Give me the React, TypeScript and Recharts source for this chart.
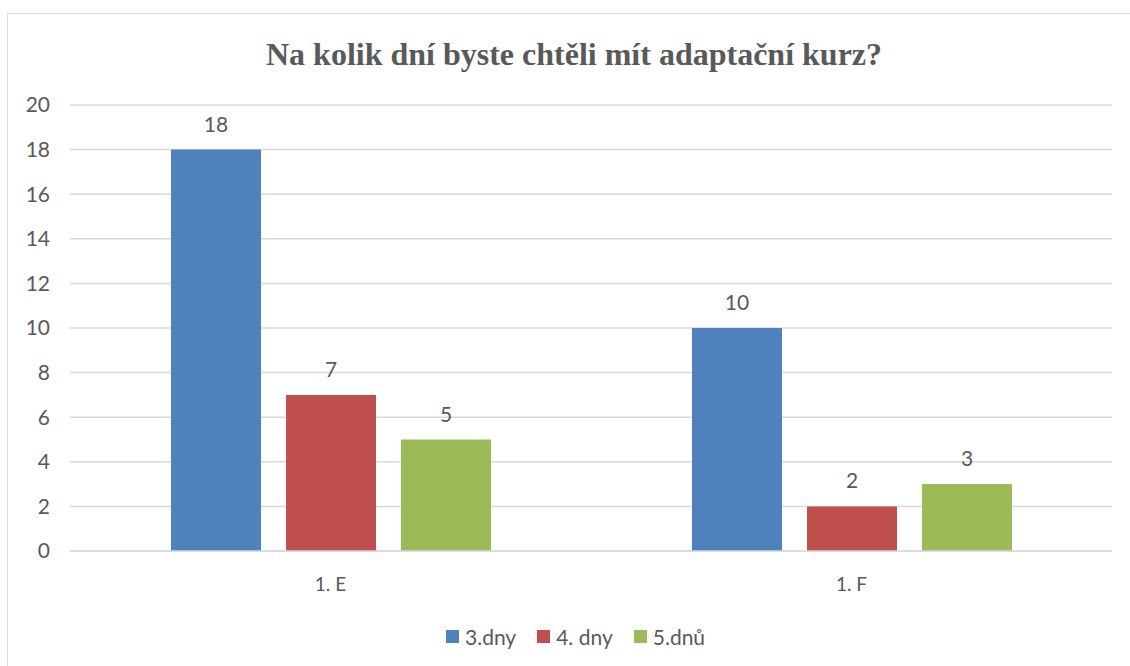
import { BarChart, Bar, XAxis, YAxis, CartesianGrid, LabelList } from 'recharts';

const categories = ['1. E', '1. F'];
const threeDays = [18, 10];
const fourDays = [7, 2];
const fiveDays = [5, 3];
const yTicks = [0, 2, 4, 6, 8, 10, 12, 14, 16, 18, 20];

const series = [
  { key: 'd3', name: '3.dny', color: '#4f81bd', values: threeDays },
  { key: 'd4', name: '4. dny', color: '#c0504d', values: fourDays },
  { key: 'd5', name: '5.dnů', color: '#9bbb59', values: fiveDays },
];

const data = categories.map((c, i) => ({
  name: c,
  d3: threeDays[i],
  d4: fourDays[i],
  d5: fiveDays[i],
}));

const font = 'Lato, "Open Sans", sans-serif';
const textColor = '#595959';

export default function App() {
  return (
    <div
      style={{
        position: 'absolute',
        left: 0,
        top: 0,
        width: 1130,
        height: 666,
        overflow: 'hidden',
        background: '#fff',
        fontFamily: font,
      }}
    >
      <div
        style={{
          position: 'absolute',
          left: 7,
          top: 13,
          width: 1140,
          height: 680,
          border: '1px solid #d9d9d9',
        }}
      />
      <div
        style={{
          position: 'absolute',
          top: 36,
          left: 0,
          width: 1148,
          textAlign: 'center',
          fontFamily: '"Liberation Serif", "Times New Roman", serif',
          fontWeight: 'bold',
          fontSize: 32,
          color: textColor,
        }}
      >
        Na kolik dní byste chtěli mít adaptační kurz?
      </div>
      <div style={{ position: 'absolute', left: 0, top: 0 }}>
        <BarChart
          width={1130}
          height={666}
          data={data}
          margin={{ top: 105, right: 18, left: 0, bottom: 0 }}
          barSize={90}
          barGap={25}
        >
          <CartesianGrid vertical={false} stroke="#d9d9d9" strokeWidth={1.5} />
          <XAxis
            dataKey="name"
            height={115}
            axisLine={{ stroke: '#d9d9d9', strokeWidth: 1.5 }}
            tickLine={false}
            tickSize={0}
            tickMargin={27}
            tick={{ fill: textColor, fontSize: 19, fontFamily: font }}
          />
          <YAxis
            width={70}
            domain={[0, 20]}
            ticks={yTicks}
            axisLine={false}
            tickLine={false}
            tickSize={0}
            tickMargin={20}
            tick={{ fill: textColor, fontSize: 21, fontFamily: font }}
          />
          {series.map((s) => (
            <Bar key={s.key} dataKey={s.key} name={s.name} fill={s.color} isAnimationActive={false}>
              <LabelList
                dataKey={s.key}
                position="top"
                offset={18}
                fill={textColor}
                fontSize={21}
                fontFamily={font}
              />
            </Bar>
          ))}
        </BarChart>
      </div>
      <div
        style={{
          position: 'absolute',
          top: 624,
          left: 446,
          display: 'flex',
          alignItems: 'center',
          fontSize: 21,
          color: textColor,
        }}
      >
        {series.map((s, i) => (
          <div key={s.key} style={{ display: 'flex', alignItems: 'center', marginLeft: i === 0 ? 0 : 21 }}>
            <div style={{ width: 13, height: 13, background: s.color, marginRight: 6 }} />
            <span>{s.name}</span>
          </div>
        ))}
      </div>
    </div>
  );
}
